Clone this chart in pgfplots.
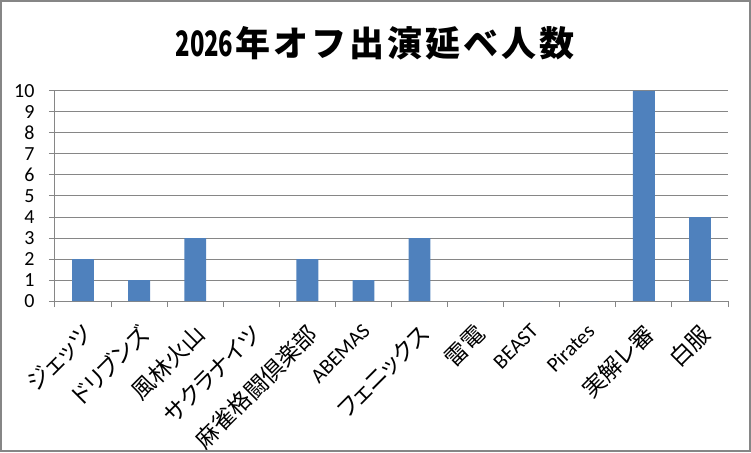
\documentclass[border=0pt]{standalone}
\usepackage{pgfplots}
\pgfplotsset{compat=1.18}
\usepackage{fontspec}
\setmainfont{Carlito}
\newfontfamily\cjk{Noto Sans CJK JP}
\newfontfamily\cjkp[RawFeature=+palt]{Noto Sans CJK JP}
\definecolor{barblue}{HTML}{4F81BD}
\definecolor{axgray}{HTML}{868686}
\newcommand{\tk}{\kern3pt}
\newcommand{\jl}[1]{{\cjkp\fontsize{23}{26}\selectfont #1}}
\begin{document}
\begin{tikzpicture}[x=1pt,y=1pt]
\useasboundingbox (0,0) rectangle (751,452);
\draw[axgray, line width=2pt] (1,1) rectangle (750,451);
\node[inner sep=0pt, font=\cjk\bfseries\fontsize{35}{40}\selectfont] at (375,409)
  {\scalebox{0.68}[1]{2026}\kern2pt 年\tk オ\tk フ\tk 出\tk 演\tk 延\tk ベ\tk 人\tk 数};
\begin{axis}[at={(55pt,151pt)}, anchor=south west, scale only axis,
  width=673pt, height=210pt,
  xmin=0.5, xmax=12.5, ymin=0, ymax=10,
  xtick={1,...,12},
  xticklabels={\jl{ジェッツ},\jl{ドリブンズ},\jl{風林火山},\jl{サクラナイツ},\jl{麻雀格闘倶楽部},ABEMAS,\jl{フェニックス},\jl{雷電},BEAST,Pirates,\jl{実解レ審},\jl{白服}},
  minor xtick={0.5,1.5,...,12.5},
  ytick={0,...,10}, minor ytick={0,...,10},
  major tick length=0pt, minor tick length=6pt, tick align=outside,
  axis lines*=left,
  axis line style={axgray, line width=1pt},
  every tick/.style={axgray, line width=1pt},
  ymajorgrids, grid style={axgray, line width=1pt},
  /pgf/number format/assume math mode=true,
  yticklabel style={font=\fontsize{20}{24}\selectfont, xshift=-17pt},
  xticklabel style={font=\fontsize{21}{24}\selectfont, xshift=-2pt, yshift=-20pt, rotate=45, anchor=north east, inner sep=1pt},
  ybar, bar width=0.39,
]
\addplot[fill=barblue, draw=none] coordinates {(1,2)(2,1)(3,3)(4,0)(5,2)(6,1)(7,3)(8,0)(9,0)(10,0)(11,10)(12,4)};
\end{axis}
\end{tikzpicture}
\end{document}
